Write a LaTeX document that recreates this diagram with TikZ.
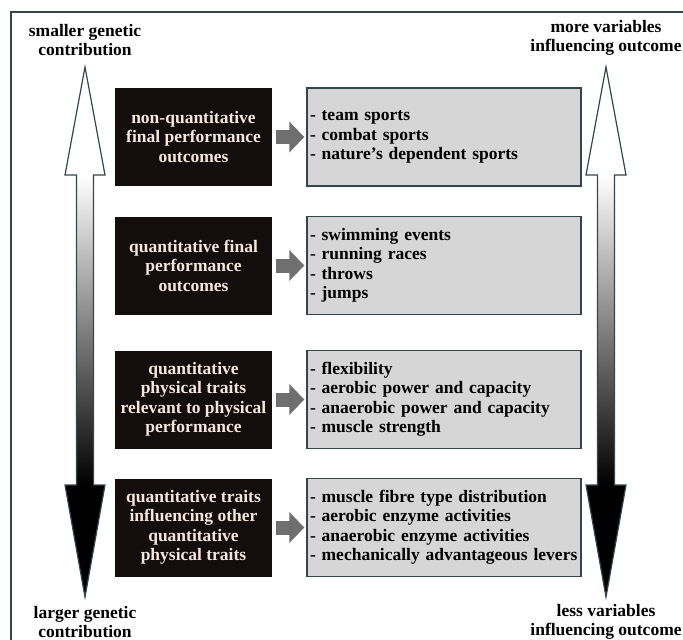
\documentclass[tikz,border=0pt]{standalone}
\usepackage{fontspec}
\setmainfont{Liberation Serif}
\usetikzlibrary{arrows.meta}
\definecolor{framec}{HTML}{34464C}
\definecolor{boxblack}{HTML}{140D0D}
\definecolor{boxgray}{HTML}{D5D6D5}
\definecolor{arrowgray}{HTML}{6F6F6F}
\definecolor{cream}{HTML}{F4E6DC}
\begin{document}
\begin{tikzpicture}[x=1pt,y=-1pt,
  txt/.style={font=\fontsize{17.5}{19.5}\selectfont\bfseries},
  darkbox/.style={txt, fill=boxblack, text=cream, align=center, minimum width=157pt, minimum height=98pt, inner sep=2pt},
  listbox/.style={txt, fill=boxgray, draw=framec, line width=1.3pt, text=black, align=left, text width=268pt, minimum height=98pt, inner xsep=3pt},
  fatarrow/.style={draw=arrowgray, line width=14pt, -{Triangle[length=15pt,width=30pt]}},
  corner/.style={txt, align=center, text=black}
]
\useasboundingbox (0,0) rectangle (683,640);
\begin{scope}
\clip (0,0) rectangle (683,640);
\draw[framec, line width=1.5pt] (11,12) rectangle (700,660);
\end{scope}

% big vertical arrows
\foreach \cx in {85,606} {
  \fill[white] (\cx,67) -- (\cx-20,175) -- (\cx+20,175) -- cycle;
  \shade[top color=white, bottom color=black] (\cx-8.5,175) rectangle (\cx+8.5,485);
  \fill[black] (\cx-20,485) -- (\cx,597) -- (\cx+20,485) -- cycle;
  \draw[framec, line width=1.2pt, line join=miter]
    (\cx,67) -- (\cx-20,175) -- (\cx-8.5,175) -- (\cx-8.5,485) -- (\cx-20,485)
    -- (\cx,597) -- (\cx+20,485) -- (\cx+8.5,485) -- (\cx+8.5,175) -- (\cx+20,175) -- cycle;
}

% corner labels
\node[corner] (tl) at (85,40) {smaller genetic\\contribution};
\node[corner] (tr) at (606,38) {more variables\\influencing outcome};
\node[corner] (bl) at (85,622) {larger genetic\\contribution};
\node[corner] (br) at (606,622) {less variables\\influencing outcome};

% left boxes
\node[darkbox] (b1) at (193.5,137) {non-quantitative\\final performance\\outcomes};
\node[darkbox] (b2) at (193.5,265.5) {quantitative final\\performance\\outcomes};
\node[darkbox] (b3) at (193.5,399.5) {quantitative\\physical traits\\relevant to physical\\performance};
\node[darkbox] (b4) at (193.5,527.5) {quantitative traits\\influencing other\\quantitative\\physical traits};

% right boxes
\node[listbox] (g1) at (444,137) {- team sports\\- combat sports\\- nature’s dependent sports};
\node[listbox] (g2) at (444,265.5) {- swimming events\\- running races\\- throws\\- jumps};
\node[listbox] (g3) at (444,399.5) {- flexibility\\- aerobic power and capacity\\- anaerobic power and capacity\\- muscle strength};
\node[listbox] (g4) at (444,527.5) {- muscle fibre type distribution\\- aerobic enzyme activities\\- anaerobic enzyme activities\\- mechanically advantageous levers};

% connectors
\foreach \i in {1,2,3,4} {
  \draw[fatarrow] ([xshift=4pt]b\i.east) -- ([xshift=-2pt]g\i.west);
}
\end{tikzpicture}
\end{document}
